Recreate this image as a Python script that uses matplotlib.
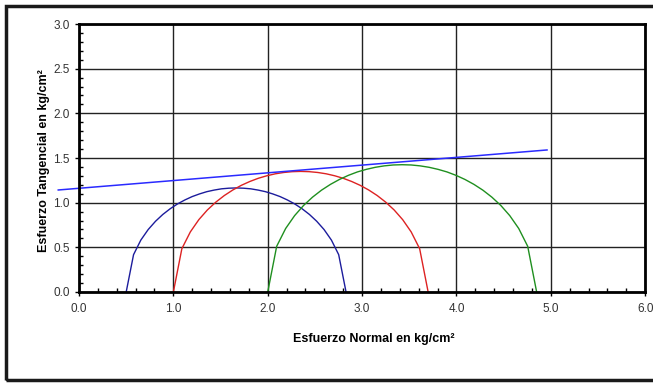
import matplotlib.pyplot as plt
from matplotlib.ticker import MultipleLocator, FormatStrFormatter
from matplotlib.patches import Rectangle

plt.rcParams['font.family'] = ['Liberation Sans Narrow', 'Liberation Sans', 'DejaVu Sans']

# Circulo 1 (azul oscuro)
x_c1 = [0.500, 0.578, 0.655, 0.733, 0.811, 0.888, 0.966, 1.044, 1.121, 1.199, 1.277,
        1.354, 1.432, 1.510, 1.587, 1.665, 1.743, 1.820, 1.898, 1.976, 2.053, 2.131,
        2.209, 2.286, 2.364, 2.442, 2.519, 2.597, 2.675, 2.752, 2.830]
y_c1 = [0.000, 0.418, 0.581, 0.699, 0.792, 0.868, 0.932, 0.986, 1.030, 1.068, 1.098,
        1.123, 1.141, 1.155, 1.162, 1.165, 1.162, 1.155, 1.141, 1.123, 1.098, 1.068,
        1.030, 0.986, 0.932, 0.868, 0.792, 0.699, 0.581, 0.418, 0.000]

# Circulo 2 (rojo)
x_c2 = [1.00, 1.09, 1.18, 1.27, 1.36, 1.45, 1.54, 1.63, 1.72, 1.81, 1.90, 1.99, 2.08,
        2.17, 2.26, 2.35, 2.44, 2.53, 2.62, 2.71, 2.80, 2.89, 2.98, 3.07, 3.16, 3.25,
        3.34, 3.43, 3.52, 3.61, 3.70]
y_c2 = [0.000, 0.485, 0.673, 0.810, 0.918, 1.006, 1.080, 1.142, 1.194, 1.237, 1.273,
        1.301, 1.323, 1.338, 1.347, 1.350, 1.347, 1.338, 1.323, 1.301, 1.273, 1.237,
        1.194, 1.142, 1.080, 1.006, 0.918, 0.810, 0.673, 0.485, 0.000]

# Circulo 3 (verde)
x_c3 = [2.000, 2.095, 2.190, 2.285, 2.380, 2.475, 2.570, 2.665, 2.760, 2.855, 2.950,
        3.045, 3.140, 3.235, 3.330, 3.425, 3.520, 3.615, 3.710, 3.805, 3.900, 3.995,
        4.090, 4.185, 4.280, 4.375, 4.470, 4.565, 4.660, 4.755, 4.850]
y_c3 = [0.000, 0.512, 0.711, 0.855, 0.969, 1.062, 1.140, 1.205, 1.260, 1.306, 1.344,
        1.373, 1.396, 1.412, 1.422, 1.425, 1.422, 1.412, 1.396, 1.373, 1.344, 1.306,
        1.260, 1.205, 1.140, 1.062, 0.969, 0.855, 0.711, 0.512, 0.000]

# Envolvente
x_env = [-0.22, 4.96]
y_env = [1.142, 1.590]

fig = plt.figure(figsize=(6.53, 3.83), dpi=100)
ax = fig.add_axes([0.121, 0.2376, 0.867, 0.6997])

# marco exterior
fig.patches.append(Rectangle((6 / 653, 3 / 383), 660 / 653, 374 / 383,
                             transform=fig.transFigure, fill=False,
                             edgecolor='#1a1a1a', lw=2.5, zorder=10))

ax.plot(x_c1, y_c1, color='#1c1c9c', lw=1.0)
ax.plot(x_c2, y_c2, color='#dd2222', lw=1.0)
ax.plot(x_c3, y_c3, color='#1f8f1f', lw=1.0)
ax.plot(x_env, y_env, color='#2a2aff', lw=1.1, clip_on=False)

ax.set_xlim(0, 6)
ax.set_ylim(0, 3)
ax.xaxis.set_major_locator(MultipleLocator(1.0))
ax.xaxis.set_minor_locator(MultipleLocator(0.2))
ax.yaxis.set_major_locator(MultipleLocator(0.5))
ax.yaxis.set_minor_locator(MultipleLocator(0.1))
ax.xaxis.set_major_formatter(FormatStrFormatter('%.1f'))
ax.yaxis.set_major_formatter(FormatStrFormatter('%.1f'))

ax.grid(True, which='major', color='#222222', lw=1.0)
ax.set_axisbelow(True)
ax.tick_params(which='major', direction='out', length=3, width=1, labelsize=8.5,
               labelcolor='#333333')
ax.tick_params(axis='x', which='major', pad=5)
ax.tick_params(which='minor', direction='in', length=3, width=1)
for s in ax.spines.values():
    s.set_linewidth(2)
    s.set_color('black')

ax.set_xlabel('Esfuerzo Normal en kg/cm²', fontsize=9, fontweight='bold')
ax.set_ylabel('Esfuerzo Tangencial en kg/cm²', fontsize=9, fontweight='bold')
ax.xaxis.set_label_coords(0.52, -0.153)
ax.yaxis.set_label_coords(-0.052, 0.49)

fig.savefig('out.png', dpi=100)
